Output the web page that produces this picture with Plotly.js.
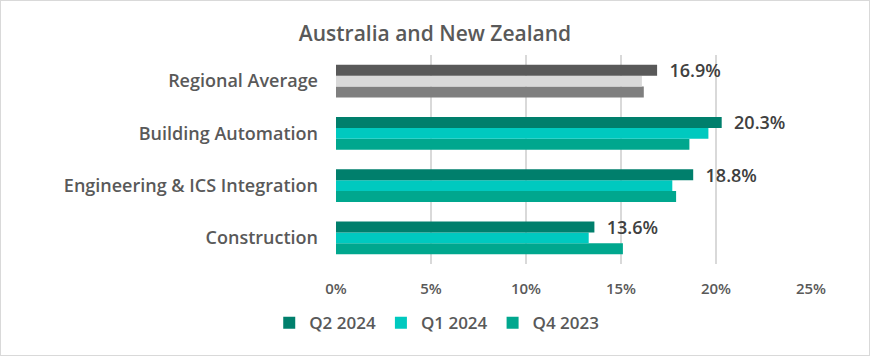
<!DOCTYPE html>
<html>
<head>
<meta charset="utf-8">
<script src="https://cdn.plot.ly/plotly-3.0.1.min.js"></script>
<style>
html,body{margin:0;padding:0;background:#fff;}
#chart{width:870px;height:356px;box-sizing:border-box;border:1px solid #d9d9d9;}
</style>
</head>
<body>
<div id="chart"></div>
<script>
// Categories bottom-to-top (Plotly draws first category at bottom)
const categories = ["Construction", "Engineering & ICS Integration", "Building Automation", "Regional Average"];
const q2_2024 = [13.6, 18.8, 20.3, 16.9];
const q1_2024 = [13.3, 17.7, 19.6, 16.1];
const q4_2023 = [15.1, 17.9, 18.6, 16.2];
const seriesNames = ["Q4 2023", "Q1 2024", "Q2 2024"];
const tickVals = [0, 5, 10, 15, 20, 25];
const tickLabels = ["0%", "5%", "10%", "15%", "20%", "25%"];

const teal = {"Q2 2024": "#007F6C", "Q1 2024": "#00C9BF", "Q4 2023": "#00A78E"};
const grey = {"Q2 2024": "#595959", "Q1 2024": "#D9D9D9", "Q4 2023": "#7F7F7F"};

function colors(name) {
  return categories.map(c => c === "Regional Average" ? grey[name] : teal[name]);
}

const FONT = "'Open Sans', sans-serif";
const dataMap = {"Q4 2023": q4_2023, "Q1 2024": q1_2024, "Q2 2024": q2_2024};

const traces = seriesNames.map(name => {
  const t = {
    type: "bar",
    orientation: "h",
    name: name,
    y: categories,
    x: dataMap[name],
    marker: {color: colors(name)},
    hoverinfo: "x+name"
  };
  if (name === "Q2 2024") {
    t.texttemplate = "\u00a0\u00a0%{x:.1f}%";
    t.textposition = "outside";
    t.constraintext = "none";
    t.cliponaxis = false;
    t.textfont = {family: FONT, size: 18, color: "#404040", weight: 600};
  } else {
    t.textposition = "none";
  }
  return t;
});

const layout = {
  width: 868,
  height: 354,
  margin: {l: 335, r: 58, t: 54, b: 91},
  paper_bgcolor: "#ffffff",
  plot_bgcolor: "#ffffff",
  font: {family: FONT, color: "#595959"},
  title: {
    text: "Australia and New Zealand",
    x: 0.5, xanchor: "center",
    y: 0.908, yanchor: "middle",
    font: {family: FONT, size: 21, color: "#595959", weight: 600}
  },
  barmode: "group",
  bargap: 0.375,
  bargroupgap: 0,
  showlegend: true,
  legend: {
    orientation: "h",
    traceorder: "reversed",
    xref: "container", yref: "container",
    x: 0.502, xanchor: "center",
    y: 0.09, yanchor: "middle",
    font: {family: FONT, size: 17, color: "#595959", weight: 600},
    itemwidth: 30
  },
  xaxis: {
    range: [0, 25],
    tickmode: "array",
    tickvals: tickVals,
    ticktext: tickLabels,
    showgrid: true,
    gridcolor: "#D9D9D9",
    gridwidth: 1.5,
    zeroline: false,
    showline: false,
    ticklabelstandoff: 14,
    tickfont: {family: FONT, size: 15, color: "#595959", weight: 600},
    fixedrange: true
  },
  yaxis: {
    showgrid: false,
    zeroline: false,
    showline: false,
    ticklabelstandoff: 17,
    tickfont: {family: FONT, size: 18, color: "#595959", weight: 600},
    fixedrange: true
  }
};

Plotly.newPlot("chart", traces, layout, {displayModeBar: false, staticPlot: true});
</script>
</body>
</html>
